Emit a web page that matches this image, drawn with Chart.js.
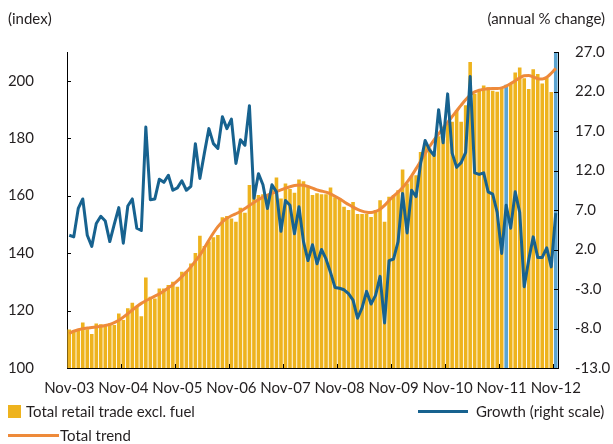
<!DOCTYPE html>
<html>
<head>
<meta charset="utf-8">
<script src="https://cdn.jsdelivr.net/npm/chart.js@4.4.0/dist/chart.umd.min.js"></script>
<style>
  html, body { margin: 0; padding: 0; background: #fff; }
  #wrap { position: relative; width: 613px; height: 444px; font-family: Lato, "Open Sans", sans-serif; color: #231f20; }
  #chart { position: absolute; left: 0; top: 0; }
  .txt { position: absolute; font-size: 15px; line-height: 18px; white-space: nowrap; }
  .swatch { position: absolute; }
</style>
</head>
<body>
<div id="wrap">
  <canvas id="chart" width="613" height="444"></canvas>
  <div class="txt" style="left:8px; top:9px;">(index)</div>
  <div class="txt" style="right:8px; top:9px;">(annual % change)</div>

  <div class="swatch" style="left:8px; top:405px; width:13px; height:13px; background:#EEB31E;"></div>
  <div class="txt" style="left:26px; top:402px;">Total retail trade excl. fuel</div>

  <div class="swatch" style="left:418px; top:410px; width:50px; height:3px; background:#17628F;"></div>
  <div class="txt" style="left:476px; top:402px;">Growth (right scale)</div>

  <div class="swatch" style="left:8px; top:434px; width:51px; height:3px; background:#EE8A3A;"></div>
  <div class="txt" style="left:60px; top:426px;">Total trend</div>
</div>

<script>
// months from Nov-03 to Nov-12
const monthNames = ["Jan", "Feb", "Mar", "Apr", "May", "Jun", "Jul", "Aug", "Sep", "Oct", "Nov", "Dec"];
const labels = [];
for (let k = 0; k < 109; k++) {
  const m = (10 + k) % 12;
  const y = 3 + Math.floor((10 + k) / 12);
  labels.push(monthNames[m] + "-" + String(y).padStart(2, "0"));
}

// index level (left scale)
const retailTrade = [
  113.4, 112.9, 113.2, 115.8, 113.5, 111.8, 115.5, 115.2, 114.8, 115.5, 115.0, 119.0,
  116.7, 120.8, 122.7, 121.6, 118.0, 131.5, 124.8, 124.2, 127.7, 127.7, 128.9, 130.0,
  128.3, 133.5, 133.7, 136.4, 140.0, 146.0, 142.5, 144.0, 145.5, 146.3, 152.5, 152.9,
  152.0, 150.9, 155.8, 154.0, 163.7, 161.9, 160.2, 160.5, 160.2, 163.0, 166.3, 159.0,
  164.2, 162.3, 161.0, 165.6, 165.0, 163.0, 160.2, 160.8, 160.5, 160.5, 162.8, 159.4,
  159.0, 156.1, 155.0, 157.8, 153.6, 153.6, 153.6, 152.6, 155.0, 158.4, 150.9, 159.6,
  160.2, 161.9, 169.1, 164.2, 166.8, 167.1, 175.2, 178.1, 176.4, 174.7, 180.7, 180.7,
  185.1, 185.7, 189.7, 185.7, 191.5, 206.5, 195.5, 196.5, 198.3, 197.7, 196.5, 196.2,
  197.1, 198.6, 198.8, 202.9, 204.6, 200.9, 197.1, 204.0, 202.3, 199.0, 201.1, 196.1,
  210.0
];

const totalTrend = [
  112.0, 112.8, 113.3, 113.7, 113.9, 114.1, 114.3, 114.5, 114.8, 115.2, 115.8, 116.6,
  117.7, 118.9, 120.2, 121.4, 122.5, 123.4, 124.2, 125.0, 125.8, 126.8, 127.9, 129.0,
  130.3, 131.8, 133.4, 135.2, 137.2, 139.3, 141.8, 144.5, 147.0, 149.2, 150.9, 152.1,
  153.0, 153.7, 154.5, 155.5, 156.6, 157.6, 158.6, 159.5, 160.2, 160.8, 161.4, 162.0,
  162.6, 163.1, 163.5, 163.7, 163.6, 163.2, 162.6, 162.0, 161.6, 161.2, 160.6, 159.8,
  158.9, 157.9, 156.9, 156.0, 155.2, 154.6, 154.2, 154.1, 154.5, 155.3, 156.6, 158.3,
  159.8, 161.2, 162.8, 164.7, 166.9, 169.4, 172.0, 174.6, 177.1, 179.4, 181.5, 183.5,
  185.5, 187.5, 189.5, 191.5, 193.4, 195.0, 196.1, 196.7, 197.0, 197.2, 197.3, 197.3,
  197.5, 198.1, 199.0, 200.0, 201.0, 201.7, 201.8, 201.3, 200.7, 200.6, 201.2, 202.6,
  204.3
];

// annual % change (right scale)
const growth = [
  3.8, 3.6, 7.2, 8.4, 3.8, 2.4, 5.3, 6.2, 5.6, 3.0, 5.2, 7.3,
  2.8, 7.5, 8.4, 4.7, 4.4, 17.5, 8.3, 8.4, 10.9, 10.5, 11.4, 9.5,
  9.8, 10.7, 9.5, 10.0, 15.4, 11.0, 14.2, 17.3, 15.4, 14.8, 18.8, 17.3,
  18.5, 12.9, 15.9, 15.2, 20.2, 8.5, 11.6, 10.2, 7.2, 10.2, 9.3, 4.3,
  8.2, 7.6, 4.0, 7.4, 3.0, 0.6, 2.6, 0.2, 2.0, 0.8, -0.9, -2.8,
  -2.9, -3.1, -3.6, -4.4, -6.7, -5.4, -3.3, -4.9, -3.8, -1.4, -7.3, 0.6,
  0.8, 3.0, 9.1, 4.1, 9.5, 8.7, 12.9, 15.8, 14.6, 13.9, 19.7, 15.5,
  21.7, 14.2, 12.4, 13.0, 14.3, 23.9, 11.7, 11.5, 11.7, 9.3, 9.0, 6.7,
  1.5, 7.6, 4.7, 9.3, 6.7, -2.7, 0.7, 3.6, 1.0, 1.0, 2.2, -0.2,
  6.6
];

const highlighted = [97, 108];

// small tick marks pointing into the plot
const innerTicks = {
  id: "innerTicks",
  afterDraw(chart) {
    const { ctx, chartArea: a, scales } = chart;
    ctx.save();
    ctx.strokeStyle = "#000";
    ctx.lineWidth = 1;
    ctx.beginPath();
    scales.y.ticks.forEach(t => {
      const y = Math.round(scales.y.getPixelForValue(t.value)) + 0.5;
      ctx.moveTo(a.left, y);
      ctx.lineTo(a.left + 4, y);
    });
    scales.y2.ticks.forEach(t => {
      const y = Math.round(scales.y2.getPixelForValue(t.value)) + 0.5;
      ctx.moveTo(a.right, y);
      ctx.lineTo(a.right - 4, y);
    });
    const step = (a.right - a.left) / labels.length;
    for (let i = 12; i < labels.length; i += 12) {
      const x = Math.round(scales.x.getPixelForValue(i) - step / 2) + 0.5;
      ctx.moveTo(x, a.bottom);
      ctx.lineTo(x, a.bottom - 4);
    }
    ctx.stroke();
    ctx.restore();
  }
};

Chart.defaults.font.family = "Lato, 'Open Sans', sans-serif";
Chart.defaults.font.size = 15;
Chart.defaults.color = "#231f20";

new Chart(document.getElementById("chart"), {
  type: "bar",
  data: {
    labels: labels,
    datasets: [
      {
        type: "line",
        label: "Growth (right scale)",
        data: growth,
        yAxisID: "y2",
        borderColor: "#17628F",
        borderWidth: 3,
        pointRadius: 0,
        tension: 0,
        borderJoinStyle: "round",
        order: 0
      },
      {
        type: "line",
        label: "Total trend",
        data: totalTrend,
        yAxisID: "y",
        borderColor: "#EE8A3A",
        borderWidth: 3,
        pointRadius: 0,
        cubicInterpolationMode: "monotone",
        order: 1
      },
      {
        label: "Total retail trade excl. fuel",
        data: retailTrade,
        yAxisID: "y",
        backgroundColor: ctx => highlighted.includes(ctx.dataIndex) ? "#5BA4D0" : "#EEB31E",
        barPercentage: 0.8,
        categoryPercentage: 1.0,
        order: 2
      }
    ]
  },
  options: {
    responsive: false,
    animation: false,
    devicePixelRatio: 1,
    layout: { padding: { top: 52, left: 0, right: 0, bottom: 0 } },
    plugins: { legend: { display: false }, tooltip: { enabled: false } },
    scales: {
      x: {
        offset: true,
        grid: { display: false, drawTicks: false },
        border: { display: true, color: "#000", width: 1 },
        ticks: {
          autoSkip: false,
          maxRotation: 0,
          minRotation: 0,
          padding: 11,
          callback: (v, i) => (i % 12 === 0 ? labels[i] : "")
        },
        afterFit: s => { s.height = 76; }
      },
      y: {
        position: "left",
        min: 100,
        max: 210,
        grid: { display: false, drawTicks: false },
        border: { display: true, color: "#000", width: 1 },
        ticks: { stepSize: 20, includeBounds: false, padding: 33 },
        afterFit: s => { s.width = 67; }
      },
      y2: {
        position: "right",
        min: -13,
        max: 27,
        grid: { display: false, drawTicks: false },
        border: { display: true, color: "#000", width: 1 },
        ticks: { stepSize: 5, padding: 17, callback: v => Number(v).toFixed(1) },
        afterFit: s => { s.width = 55; }
      }
    }
  },
  plugins: [innerTicks]
});
</script>
</body>
</html>
